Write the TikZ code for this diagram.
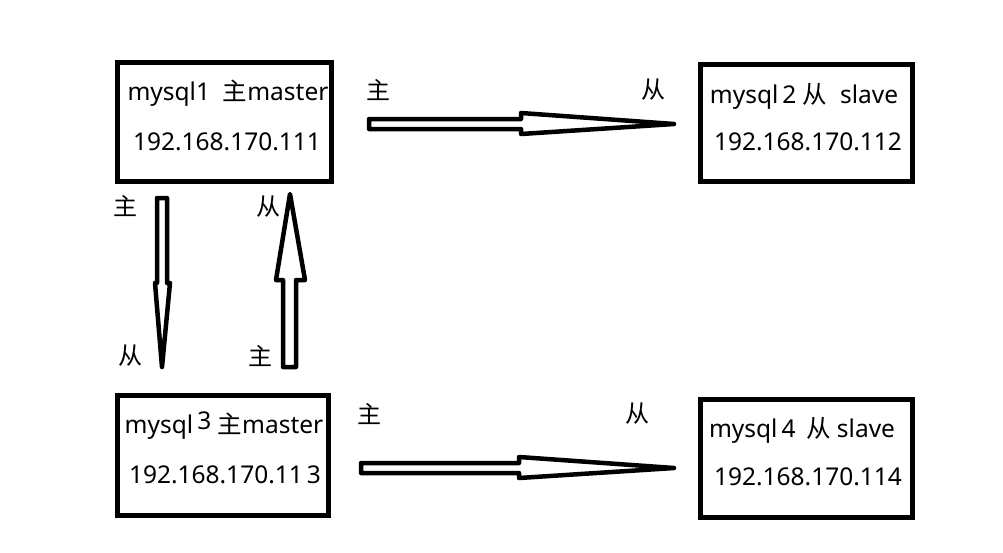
\documentclass[tikz,border=0pt]{standalone}
\usepackage{fontspec}
\setmainfont{Noto Sans}
\newfontfamily\cjk{Noto Sans CJK SC}
\begin{document}
\begin{tikzpicture}[x=1pt,y=-1pt,
  hostbox/.style={draw=black,line width=5pt},
  txt/.style={font=\fontsize{24.5}{28}\selectfont,anchor=base,inner sep=0pt},
  lbl/.style={font=\fontsize{24}{26}\selectfont\cjk,inner sep=0pt},
  fatarrow/.style={draw=black,fill=white,line width=4.5pt,line join=round}]
\useasboundingbox (0,0) rectangle (1003,552);
% boxes
\draw[hostbox] (117,62) rectangle (331,181);
\draw[hostbox] (700,64) rectangle (912,181);
\draw[hostbox] (117,395) rectangle (328,515);
\draw[hostbox] (700,399) rectangle (912,517);
% texts
\node[txt] (t1a) at (228,100) {mysql1\ \ {\cjk 主}master};
\node[txt] (t1b) at (227,150) {192.168.170.111};
\node[txt] (t2a) at (804,103) {mysql\,2 {\cjk 从}\ \ slave};
\node[txt] (t2b) at (808,150) {192.168.170.112};
\node[txt] (t3a) at (224,433) {mysql\,\raisebox{4pt}{3} {\cjk 主}master};
\node[txt] (t3b) at (225,483) {192.168.170.11\,3};
\node[txt] (t4a) at (802,437) {mysql\,4\, {\cjk 从} slave};
\node[txt] (t4b) at (808,485) {192.168.170.114};
% arrows
\draw[fatarrow] (369,119) -- (521,119) -- (521,113) -- (674,124) -- (521,134) -- (521,129) -- (369,129) -- cycle;
\draw[fatarrow] (361,463) -- (519,463) -- (519,457) -- (674,468) -- (519,478) -- (519,473) -- (361,473) -- cycle;
\draw[fatarrow] (157,198) -- (167,198) -- (167,283) -- (170,283) -- (162,367) -- (155,283) -- (157,283) -- cycle;
\draw[fatarrow] (283,367) -- (296,367) -- (296,280) -- (305,280) -- (290,194) -- (276,280) -- (283,280) -- cycle;
% labels
\node[lbl] (l1) at (378,90) {主};
\node[lbl] (l2) at (653,90) {从};
\node[lbl] (l3) at (369,414) {主};
\node[lbl] (l4) at (637,414) {从};
\node[lbl] (l5) at (125,206) {主};
\node[lbl] (l6) at (130,356) {从};
\node[lbl] (l7) at (268,207) {从};
\node[lbl] (l8) at (260,356) {主};
\end{tikzpicture}
\end{document}
